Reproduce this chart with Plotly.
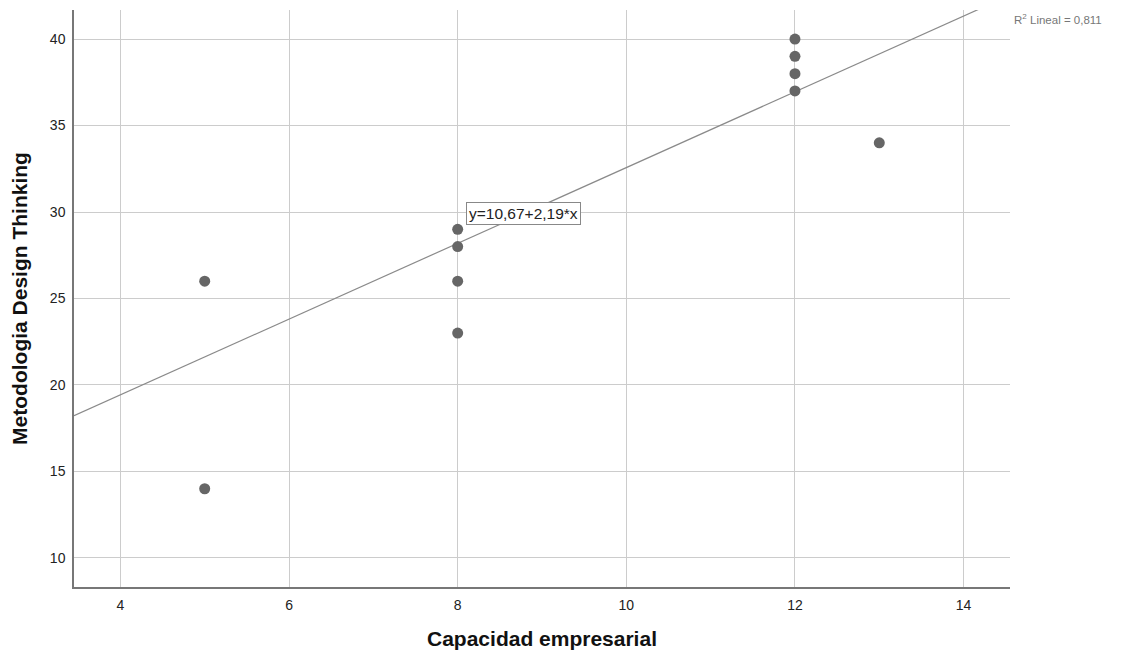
import plotly.graph_objects as go

x_vals = [5, 5, 8, 8, 8, 8, 12, 12, 12, 12, 13]
y_vals = [26, 14, 29, 28, 26, 23, 40, 39, 38, 37, 34]
intercept = 10.67
slope = 2.19
r2_text = "R<sup>2</sup> Lineal = 0,811"
eq_text = "y=10,67+2,19*x"
x_range = [3.45, 14.55]
y_range = [8.32, 41.68]

line_x = [x_range[0], x_range[1]]
line_y = [intercept + slope * v for v in line_x]

fig = go.Figure()
fig.add_trace(go.Scatter(x=line_x, y=line_y, mode="lines",
                         line=dict(color="#8a8a8a", width=1.2),
                         hoverinfo="skip", showlegend=False))
fig.add_trace(go.Scatter(x=x_vals, y=y_vals, mode="markers",
                         marker=dict(color="#666666", size=11),
                         showlegend=False))

fig.add_annotation(x=8.1, y=29.9, xref="x", yref="y", text=eq_text,
                   showarrow=False, xanchor="left", yanchor="middle",
                   font=dict(family="Liberation Sans, Arial", size=15.5, color="#222222"),
                   bordercolor="#888888", borderwidth=1, borderpad=2,
                   bgcolor="white")
fig.add_annotation(x=1.002, y=1.0, xref="paper", yref="paper", text=r2_text,
                   showarrow=False, xanchor="left", yanchor="top",
                   font=dict(family="Liberation Sans, Arial", size=11.5, color="#777777"))

fig.update_layout(
    width=1128, height=659,
    margin=dict(l=74, r=118, t=10, b=72),
    plot_bgcolor="white", paper_bgcolor="white",
    font=dict(family="Liberation Sans, Arial", size=14, color="#222222"),
    xaxis=dict(range=x_range, tickvals=[4, 6, 8, 10, 12, 14],
               showgrid=True, gridcolor="#cccccc", gridwidth=1,
               showline=True, linecolor="#777777", linewidth=1.5,
               ticks="outside", ticklen=4, tickcolor="rgba(0,0,0,0)",
               zeroline=False,
               title=dict(text="<b>Capacidad empresarial</b>",
                          font=dict(size=21, color="#111111"), standoff=20)),
    yaxis=dict(range=y_range, tickvals=[10, 15, 20, 25, 30, 35, 40],
               showgrid=True, gridcolor="#cccccc", gridwidth=1,
               showline=True, linecolor="#777777", linewidth=1.5,
               ticks="outside", ticklen=4, tickcolor="rgba(0,0,0,0)",
               zeroline=False,
               title=dict(text="<b>Metodologia Design Thinking</b>",
                          font=dict(size=21, color="#111111"), standoff=17)),
)

fig.write_html("out.html")
